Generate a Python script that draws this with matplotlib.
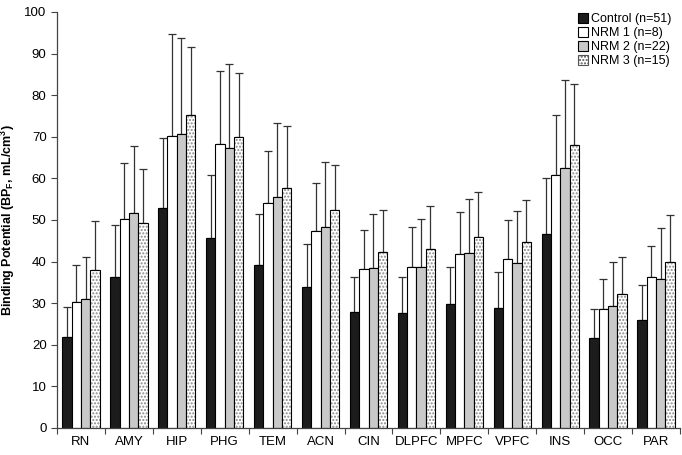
import matplotlib
matplotlib.use("Agg")
import matplotlib.pyplot as plt
import numpy as np
from matplotlib.patches import Patch

plt.rcParams['font.family'] = ['Liberation Sans', 'DejaVu Sans']

regions = ['RN', 'AMY', 'HIP', 'PHG', 'TEM', 'ACN', 'CIN', 'DLPFC', 'MPFC', 'VPFC', 'INS', 'OCC', 'PAR']

# mean values
control = [21.8, 36.3, 52.9, 45.6, 39.3, 34.0, 27.9, 27.6, 29.8, 28.9, 46.7, 21.6, 25.9]
nrm1 = [30.2, 50.3, 70.2, 68.3, 54.0, 47.4, 38.3, 38.7, 41.9, 40.6, 60.7, 28.7, 36.2]
nrm2 = [31.0, 51.7, 70.6, 67.2, 55.5, 48.2, 38.5, 38.6, 42.1, 39.6, 62.4, 29.3, 35.9]
nrm3 = [37.9, 49.3, 75.3, 69.9, 57.8, 52.3, 42.2, 43.0, 45.9, 44.8, 68.0, 32.2, 40.0]

# top of error bars
control_top = [29.2, 48.7, 69.6, 60.8, 51.4, 44.3, 36.4, 36.3, 38.6, 37.4, 60.0, 28.6, 34.3]
nrm1_top = [39.2, 63.7, 94.8, 85.7, 66.6, 58.8, 47.6, 48.2, 51.9, 50.0, 75.3, 35.7, 43.8]
nrm2_top = [41.2, 67.9, 93.7, 87.6, 73.4, 64.0, 51.4, 50.3, 55.0, 52.1, 83.6, 39.8, 48.1]
nrm3_top = [49.8, 62.3, 91.7, 85.3, 72.7, 63.3, 52.4, 53.3, 56.7, 54.9, 82.8, 41.1, 51.1]

labels = ['Control (n=51)', 'NRM 1 (n=8)', 'NRM 2 (n=22)', 'NRM 3 (n=15)']

fig = plt.figure(figsize=(6.82, 4.55), dpi=100)
ax = fig.add_axes([57/682, 1-428/455, 623/682, 416/455])

x = np.arange(len(regions))
w = 0.195
series = [(control, control_top, '#1c1c1c', None),
          (nrm1, nrm1_top, 'white', None),
          (nrm2, nrm2_top, '#c9c9c9', None),
          (nrm3, nrm3_top, 'white', '.....')]

for i, (vals, tops, col, hatch) in enumerate(series):
    pos = x + (i - 1.5) * w
    vals = np.array(vals)
    err = np.array(tops) - vals
    ax.errorbar(pos, vals, yerr=[np.zeros_like(err), err], fmt='none',
                ecolor='#333333', elinewidth=0.9, capsize=3, capthick=0.9, zorder=1)
    if hatch:
        ax.bar(pos, vals, w, color='white', edgecolor='#888888', hatch=hatch,
               linewidth=0, zorder=2)
        ax.bar(pos, vals, w, color='none', edgecolor='black', linewidth=0.8, zorder=3)
    else:
        ax.bar(pos, vals, w, color=col, edgecolor='black', linewidth=0.8, zorder=2)

ax.set_xlim(-0.5, len(regions) - 0.5)
ax.set_ylim(0, 100)
ax.set_yticks(range(0, 101, 10))
ax.set_xticks(x)
ax.set_xticklabels(regions, fontsize=9.5)
ax.set_xticks(np.arange(-0.5, len(regions), 1), minor=True)
ax.tick_params(axis='x', which='major', length=0, pad=6)
ax.tick_params(axis='x', which='minor', length=4, width=0.8, color='#444444')
ax.tick_params(axis='y', labelsize=9.5, length=4, width=0.8, color='#444444')
for s in ['top', 'right']:
    ax.spines[s].set_visible(False)
for s in ['left', 'bottom']:
    ax.spines[s].set_color('#444444')
    ax.spines[s].set_linewidth(0.9)

ax.set_ylabel('Binding Potential (BP$_\\mathregular{F}$, mL/cm$^\\mathregular{3}$)',
              fontsize=9, fontweight='bold')
ax.yaxis.set_label_coords(-0.064, 0.5)

handles = [Patch(facecolor='#1c1c1c', edgecolor='black', linewidth=0.8),
           Patch(facecolor='white', edgecolor='black', linewidth=0.8),
           Patch(facecolor='#c9c9c9', edgecolor='black', linewidth=0.8),
           Patch(facecolor='white', edgecolor='#555555', hatch='.....', linewidth=0.8)]
ax.legend(handles, labels, loc='upper right', bbox_to_anchor=(0.998, 1.015), frameon=False,
          fontsize=9, handlelength=0.8, handleheight=0.8, handletextpad=0.2,
          labelspacing=0.15, borderaxespad=0.2)

fig.savefig('out.png', dpi=100)
